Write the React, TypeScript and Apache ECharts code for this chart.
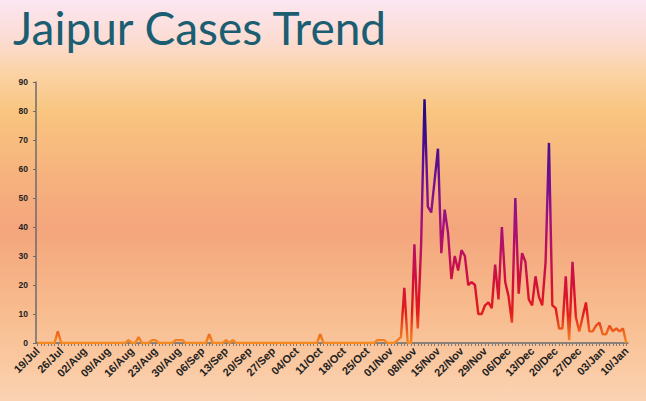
import React, { useEffect, useRef } from "react";
import * as echarts from "echarts";

const TITLE = "Jaipur Cases Trend";
const MONTHS = ["Jan", "Feb", "Mar", "Apr", "May", "Jun", "Jul", "Aug", "Sep", "Oct", "Nov", "Dec"];
const START_YEAR = 2020;
const START_MONTH = 6; // July (0-based)
const START_DAY = 19;
const DAY_COUNT = 176;

// daily cases, 19/Jul .. 10/Jan
const cases = [
  0, 0, 0, 0, 0, 0, 4, 0, 0, 0,
  0, 0, 0, 0, 0, 0, 0, 0, 0, 0,
  0, 0, 0, 0, 0, 0, 0, 1, 0, 0,
  2, 0, 0, 0, 1, 1, 0, 0, 0, 0,
  0, 1, 1, 1, 0, 0, 0, 0, 0, 0,
  0, 3, 0, 0, 0, 0, 1, 0, 1, 0,
  0, 0, 0, 0, 0, 0, 0, 0, 0, 0,
  0, 0, 0, 0, 0, 0, 0, 0, 0, 0,
  0, 0, 0, 0, 3, 0, 0, 0, 0, 0,
  0, 0, 0, 0, 0, 0, 0, 0, 0, 0,
  0, 1, 1, 1, 0, 0, 0, 1, 2, 19,
  0, 0, 34, 5, 34, 84, 47, 45, 56, 67,
  31, 46, 38, 22, 30, 25, 32, 30, 20, 21,
  20, 10, 10, 13, 14, 12, 27, 15, 40, 21,
  16, 7, 50, 17, 31, 28, 15, 13, 23, 16,
  13, 28, 69, 13, 12, 5, 5, 23, 1, 28,
  9, 4, 9, 14, 4, 4, 6, 7, 3, 3,
  6, 4, 5, 4, 5, 0,
];

const yTicks = [0, 10, 20, 30, 40, 50, 60, 70, 80, 90];

const categories: string[] = Array.from({ length: DAY_COUNT }, (_, i) => {
  const dt = new Date(Date.UTC(START_YEAR, START_MONTH, START_DAY + i));
  return String(dt.getUTCDate()).padStart(2, "0") + "/" + MONTHS[dt.getUTCMonth()];
});

export default function App() {
  const ref = useRef<HTMLDivElement>(null);
  useEffect(() => {
    if (!ref.current) return;
    const chart = echarts.init(ref.current, null, { renderer: "svg" });
    chart.setOption({
      animation: false,
      title: {
        text: TITLE,
        left: 8,
        top: -1,
        textStyle: {
          fontFamily: "Lato",
          fontSize: 46,
          fontWeight: "normal",
          color: "#1b5e72",
        },
      },
      grid: { left: 36, right: 18, top: 82, bottom: 58, containLabel: false },
      visualMap: {
        show: false,
        type: "continuous",
        dimension: 1,
        min: 0,
        max: 84,
        inRange: {
          color: ["#f58a1f", "#e31c1c", "#d3103a", "#bb105e", "#a0107e", "#7c108e", "#5a0f8e", "#380c88", "#1c0a7c"],
        },
      },
      xAxis: {
        type: "category",
        data: categories,
        boundaryGap: true,
        axisLine: { lineStyle: { color: "#6b6b6b", width: 1.5 } },
        axisTick: { show: true, interval: 0, length: 3, alignWithLabel: true, lineStyle: { color: "#7a7a7a" } },
        axisLabel: {
          interval: 6,
          rotate: 45,
          fontSize: 11,
          fontWeight: "bold",
          fontFamily: "Liberation Sans",
          color: "#222",
          margin: 6,
        },
        splitLine: { show: false },
      },
      yAxis: {
        type: "value",
        min: yTicks[0],
        max: yTicks[yTicks.length - 1],
        interval: 10,
        axisLine: { show: true, lineStyle: { color: "#6b6b6b", width: 1.5 } },
        axisTick: { show: true, length: 3, lineStyle: { color: "#6b6b6b" } },
        axisLabel: {
          fontSize: 8.5,
          fontWeight: "bold",
          fontFamily: "Liberation Sans",
          color: "#222",
          margin: 8,
        },
        splitLine: { show: false },
      },
      series: [
        {
          type: "line",
          data: cases,
          symbol: "none",
          lineStyle: { width: 2.4 },
        },
      ],
    });
    return () => chart.dispose();
  }, []);
  return (
    <div
      style={{
        position: "fixed",
        left: 0,
        top: 0,
        width: 646,
        height: 401,
        background:
          "linear-gradient(to bottom, #fbe6f2 0%, #fcdcd2 10%, #fbd3a6 18%, #f9c57f 28%, #f6b17e 45%, #f4a57c 57%, #f7b98b 75%, #fac8a0 90%, #fbd3b3 100%)",
      }}
    >
      <div ref={ref} style={{ width: 646, height: 401 }} />
    </div>
  );
}
